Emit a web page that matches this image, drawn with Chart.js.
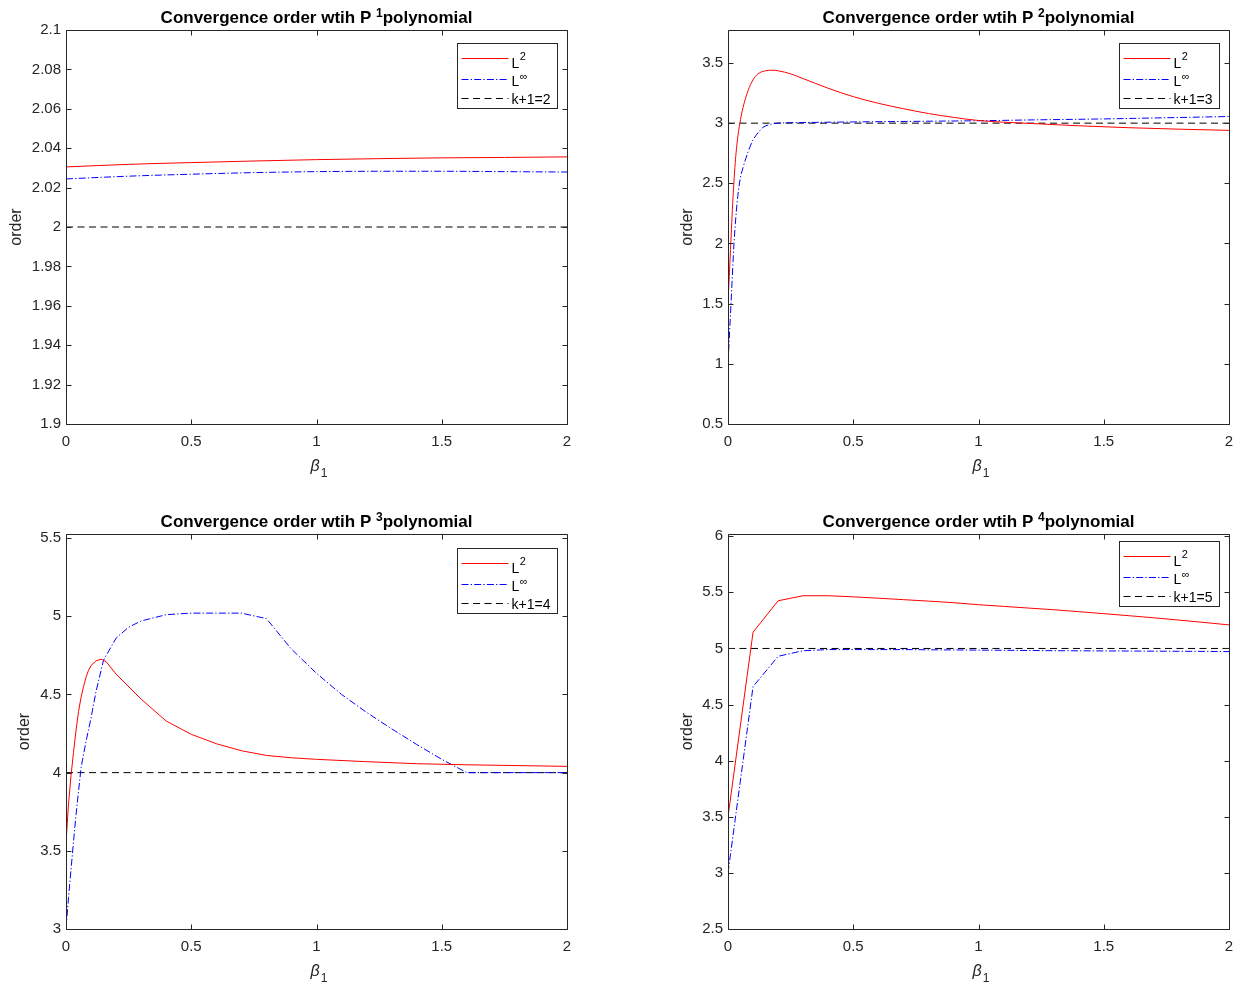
<!DOCTYPE html>
<html>
<head>
<meta charset="utf-8">
<script src="https://cdn.jsdelivr.net/npm/chart.js@4.4.1/dist/chart.umd.min.js"></script>
<style>
  html, body { margin: 0; padding: 0; background: #ffffff; }
  #fig { position: relative; width: 1234px; height: 987px; background: #ffffff; overflow: hidden; }
  #fig canvas { position: absolute; }
</style>
</head>
<body>
<div id="fig">
  <canvas id="c1" width="617" height="493" style="left:0px;top:0px;width:617px;height:493px"></canvas>
  <canvas id="c2" width="617" height="493" style="left:617px;top:0px;width:617px;height:493px"></canvas>
  <canvas id="c3" width="617" height="494" style="left:0px;top:493px;width:617px;height:494px"></canvas>
  <canvas id="c4" width="617" height="494" style="left:617px;top:493px;width:617px;height:494px"></canvas>
</div>
<script>
// ---------------- DATA ----------------
const X_TICKS = [0, 0.5, 1, 1.5, 2];
const REF_BETA = [0, 2];

// Panel 1 : P^1
const P1_TITLE = ['Convergence order wtih P ', '1', 'polynomial'];
const P1_LEGEND = [['L', '2'], ['L', '\u221E'], ['k+1=2', '']];
const P1_BETA = [0, 0.25, 0.5, 0.75, 1, 1.25, 1.5, 1.75, 2];
const P1_L2   = [2.0305, 2.0318, 2.0327, 2.0335, 2.0342, 2.0347, 2.0351, 2.0353, 2.0356];
const P1_LINF = [2.0244, 2.0258, 2.0268, 2.0276, 2.0281, 2.0283, 2.0283, 2.0281, 2.0279];
const P1_REF  = [2, 2];
const P1_Y_TICKS = [1.9, 1.92, 1.94, 1.96, 1.98, 2, 2.02, 2.04, 2.06, 2.08, 2.1];
const P1_Y_RANGE = [1.9, 2.1];

// Panel 2 : P^2
const P2_TITLE = ['Convergence order wtih P ', '2', 'polynomial'];
const P2_LEGEND = [['L', '2'], ['L', '\u221E'], ['k+1=3', '']];
const P2_BETA_L2 = [0, 0.01, 0.02, 0.03, 0.04, 0.05, 0.06, 0.08, 0.10, 0.12, 0.15, 0.18, 0.2, 0.25, 0.3, 0.4, 0.5, 0.6, 0.7, 0.8, 0.9, 1.0, 1.2, 1.4, 1.6, 1.8, 2.0];
const P2_L2 = [1.50, 1.95, 2.38, 2.70, 2.90, 3.03, 3.13, 3.27, 3.36, 3.41, 3.435, 3.44, 3.435, 3.41, 3.37, 3.29, 3.22, 3.165, 3.12, 3.08, 3.048, 3.022, 2.998, 2.978, 2.962, 2.95, 2.94];
const P2_BETA_LINF = [0, 0.012, 0.024, 0.036, 0.048, 0.06, 0.08, 0.1, 0.12, 0.14, 0.17, 0.2, 0.3, 0.5, 0.75, 1.0, 1.25, 1.5, 1.75, 2.0];
const P2_LINF = [1.0, 1.5, 2.0, 2.33, 2.53, 2.63, 2.76, 2.86, 2.92, 2.965, 2.99, 3.0, 3.005, 3.01, 3.015, 3.02, 3.028, 3.035, 3.045, 3.055];
const P2_REF = [3, 3];
const P2_Y_TICKS = [0.5, 1, 1.5, 2, 2.5, 3, 3.5];
const P2_Y_RANGE = [0.5, 3.774];

// Panel 3 : P^3
const P3_TITLE = ['Convergence order wtih P ', '3', 'polynomial'];
const P3_LEGEND = [['L', '2'], ['L', '\u221E'], ['k+1=4', '']];
const P3_BETA_L2 = [0, 0.01, 0.02, 0.03, 0.04, 0.05, 0.06, 0.07, 0.08, 0.09, 0.1, 0.12, 0.14, 0.16, 0.2, 0.3, 0.4, 0.5, 0.6, 0.7, 0.8, 0.9, 1.0, 1.2, 1.4, 1.6, 1.8, 2.0];
const P3_L2 = [3.55, 3.80, 3.98, 4.13, 4.27, 4.39, 4.48, 4.55, 4.61, 4.655, 4.685, 4.715, 4.725, 4.71, 4.63, 4.47, 4.33, 4.245, 4.185, 4.14, 4.11, 4.095, 4.085, 4.07, 4.057, 4.05, 4.045, 4.04];
const P3_BETA_LINF = [0, 0.01, 0.02, 0.03, 0.04, 0.05, 0.06, 0.08, 0.1, 0.12, 0.15, 0.2, 0.25, 0.3, 0.4, 0.5, 0.6, 0.7, 0.8, 0.9, 1.0, 1.1, 1.2, 1.3, 1.4, 1.5, 1.6, 1.7, 1.8, 1.9, 2.0];
const P3_LINF = [3.0, 3.2, 3.38, 3.56, 3.73, 3.88, 4.03, 4.2, 4.35, 4.52, 4.72, 4.86, 4.93, 4.97, 5.01, 5.02, 5.02, 5.02, 4.985, 4.79, 4.635, 4.50, 4.385, 4.28, 4.18, 4.085, 4.0, 4.0, 4.0, 4.0, 4.0];
const P3_REF = [4, 4];
const P3_Y_TICKS = [3, 3.5, 4, 4.5, 5, 5.5];
const P3_Y_RANGE = [3, 5.526];

// Panel 4 : P^4
const P4_TITLE = ['Convergence order wtih P ', '4', 'polynomial'];
const P4_LEGEND = [['L', '2'], ['L', '\u221E'], ['k+1=5', '']];
const P4_BETA = [0, 0.1, 0.2, 0.3, 0.4, 0.5, 0.6, 0.7, 0.8, 0.9, 1.0, 1.1, 1.2, 1.3, 1.4, 1.5, 1.6, 1.7, 1.8, 1.9, 2.0];
const P4_L2   = [3.5, 5.145, 5.425, 5.47, 5.47, 5.46, 5.448, 5.435, 5.422, 5.408, 5.39, 5.375, 5.36, 5.345, 5.328, 5.31, 5.292, 5.273, 5.253, 5.232, 5.21];
const P4_LINF = [3.0, 4.66, 4.93, 4.98, 4.99, 4.99, 4.99, 4.99, 4.988, 4.987, 4.985, 4.984, 4.982, 4.98, 4.979, 4.978, 4.977, 4.976, 4.975, 4.974, 4.972];
const P4_REF = [5, 5];
const P4_Y_TICKS = [2.5, 3, 3.5, 4, 4.5, 5, 5.5, 6];
const P4_Y_RANGE = [2.5, 6.02];

const X_LABEL = ['\u03B2', '1'];
const Y_LABEL = 'order';

// ---------------- RENDERING ----------------
const FONT = '"Liberation Sans", Arial, Helvetica, sans-serif';
const AXC = '#262626';

function pts(xs, ys) { return xs.map((x, i) => ({ x: x, y: ys[i] })); }
function fmt(v) { return String(+(+v).toFixed(3)); }

const mfig = {
  id: 'mfig',
  afterDraw(chart, args, o) {
    const ctx = chart.ctx, a = chart.chartArea;
    const xs = chart.scales.x, ys = chart.scales.y;
    const L = Math.round(a.left) + 0.5, R = Math.round(a.right) + 0.5;
    const T = Math.round(a.top) + 0.5, B = Math.round(a.bottom) + 0.5;
    ctx.save();
    ctx.setLineDash([]);
    ctx.strokeStyle = AXC; ctx.lineWidth = 1;
    ctx.beginPath();
    ctx.rect(L, T, R - L, B - T);
    ctx.stroke();
    const tl = 5;
    ctx.beginPath();
    xs.ticks.forEach(t => {
      const px = Math.round(xs.getPixelForValue(t.value)) + 0.5;
      ctx.moveTo(px, B); ctx.lineTo(px, B - tl);
      ctx.moveTo(px, T); ctx.lineTo(px, T + tl);
    });
    ys.ticks.forEach(t => {
      const py = Math.round(ys.getPixelForValue(t.value)) + 0.5;
      ctx.moveTo(L, py); ctx.lineTo(L + tl, py);
      ctx.moveTo(R, py); ctx.lineTo(R - tl, py);
    });
    ctx.stroke();

    // title with superscript
    ctx.fillStyle = '#000000';
    ctx.textAlign = 'left'; ctx.textBaseline = 'alphabetic';
    const tf = 'bold 17px ' + FONT, sf = 'bold 12px ' + FONT;
    ctx.font = tf; const w1 = ctx.measureText(o.title[0]).width;
    ctx.font = sf; const w2 = ctx.measureText(o.title[1]).width;
    ctx.font = tf; const w3 = ctx.measureText(o.title[2]).width;
    let tx = (a.left + a.right) / 2 - (w1 + w2 + w3) / 2;
    const tb = a.top - 7;
    ctx.font = tf; ctx.fillText(o.title[0], tx, tb);
    ctx.font = sf; ctx.fillText(o.title[1], tx + w1, tb - 6);
    ctx.font = tf; ctx.fillText(o.title[2], tx + w1 + w2, tb);

    // x label beta_1
    ctx.fillStyle = AXC;
    const cx = (a.left + a.right) / 2;
    ctx.font = 'italic 16px ' + FONT;
    const bw = ctx.measureText(o.xlabel[0]).width;
    ctx.fillText(o.xlabel[0], cx - 6, a.bottom + 47);
    ctx.font = '12px ' + FONT;
    ctx.fillText(o.xlabel[1], cx - 6 + bw + 1, a.bottom + 53);

    // legend
    const lw = 100, lh = 65;
    const bx = Math.round(a.right) - 10 - lw + 0.5;
    const by = Math.round(a.top) + o.legendTop + 0.5;
    ctx.fillStyle = '#ffffff';
    ctx.fillRect(bx, by, lw, lh);
    ctx.strokeStyle = AXC; ctx.lineWidth = 1; ctx.setLineDash([]);
    ctx.strokeRect(bx, by, lw, lh);
    const rows = [14, 35, 54];
    const baseOff = [9, 6.5, 5];
    const supOff = [1.5, 0.5, 0];
    chart.data.datasets.forEach((ds, i) => {
      const ly = Math.round(by + rows[i]) + 0.5;
      ctx.strokeStyle = ds.borderColor; ctx.lineWidth = 1;
      ctx.setLineDash(ds.borderDash || []);
      ctx.beginPath(); ctx.moveTo(bx + 4, ly); ctx.lineTo(bx + 51, ly); ctx.stroke();
      ctx.setLineDash([]);
      ctx.fillStyle = '#000000';
      const lab = o.legend[i];
      ctx.font = '14px ' + FONT;
      const lx = bx + 54;
      ctx.fillText(lab[0], lx, ly + baseOff[i]);
      if (lab[1]) {
        const lwid = ctx.measureText(lab[0]).width;
        ctx.font = '11px ' + FONT;
        ctx.fillText(lab[1], lx + lwid + 0.5, ly + supOff[i]);
      }
    });
    ctx.restore();
  }
};

function makeChart(id, cfg) {
  const ds = [
    { label: cfg.legend[0].join(''), data: pts(cfg.l2x, cfg.l2y), borderColor: '#ff0000', borderWidth: 1,
      pointRadius: 0, fill: false, tension: 0, cubicInterpolationMode: cfg.smooth ? 'monotone' : 'default' },
    { label: cfg.legend[1].join(''), data: pts(cfg.lix, cfg.liy), borderColor: '#0000ff', borderWidth: 1,
      borderDash: [7, 2.2, 1.3, 2.2], pointRadius: 0, fill: false, tension: 0, cubicInterpolationMode: cfg.smooth ? 'monotone' : 'default' },
    { label: cfg.legend[2].join(''), data: pts(REF_BETA, cfg.ref), borderColor: '#000000', borderWidth: 1,
      borderDash: [7, 4.5], pointRadius: 0, fill: false, tension: 0 }
  ];
  return new Chart(document.getElementById(id), {
    type: 'line',
    data: { datasets: ds },
    plugins: [mfig],
    options: {
      responsive: false,
      animation: false,
      devicePixelRatio: 1,
      layout: { padding: { top: cfg.padTop, right: cfg.padRight, left: 0, bottom: 0 } },
      plugins: {
        legend: { display: false },
        tooltip: { enabled: false },
        title: { display: false },
        mfig: { title: cfg.title, legend: cfg.legend, xlabel: X_LABEL, legendTop: cfg.legendTop }
      },
      scales: {
        x: {
          type: 'linear', min: 0, max: 2,
          grid: { display: false, drawTicks: false },
          border: { display: false },
          afterBuildTicks: s => { s.ticks = X_TICKS.map(v => ({ value: v })); },
          afterFit: s => { s.height = cfg.bottomH; s.paddingLeft = 0; s.paddingRight = 0; s.paddingTop = 0; s.paddingBottom = 0; },
          ticks: { color: AXC, font: { family: FONT, size: 15 }, padding: 9, maxRotation: 0, autoSkip: false,
                   callback: v => fmt(v) }
        },
        y: {
          type: 'linear', min: cfg.yr[0], max: cfg.yr[1],
          grid: { display: false, drawTicks: false },
          border: { display: false },
          afterBuildTicks: s => { s.ticks = cfg.yt.map(v => ({ value: v })); },
          afterFit: s => { s.width = cfg.leftW; s.paddingLeft = 0; s.paddingRight = 0; s.paddingTop = 0; s.paddingBottom = 0; },
          ticks: { color: AXC, font: { family: FONT, size: 15 }, padding: 5, autoSkip: false,
                   callback: v => fmt(v) },
          title: { display: true, text: Y_LABEL, color: AXC, font: { family: FONT, size: 16 },
                   padding: { top: cfg.ytPad, bottom: 0 } }
        }
      }
    }
  });
}

makeChart('c1', { title: P1_TITLE, legend: P1_LEGEND, l2x: P1_BETA, l2y: P1_L2, lix: P1_BETA, liy: P1_LINF, ref: P1_REF,
  yt: P1_Y_TICKS, yr: P1_Y_RANGE, smooth: true, padTop: 30, padRight: 50, leftW: 66, bottomH: 69, ytPad: 7.4, legendTop: 13 });
makeChart('c2', { title: P2_TITLE, legend: P2_LEGEND, l2x: P2_BETA_L2, l2y: P2_L2, lix: P2_BETA_LINF, liy: P2_LINF, ref: P2_REF,
  yt: P2_Y_TICKS, yr: P2_Y_RANGE, smooth: true, padTop: 30, padRight: 5, leftW: 111, bottomH: 69, ytPad: 61.4, legendTop: 13 });
makeChart('c3', { title: P3_TITLE, legend: P3_LEGEND, l2x: P3_BETA_L2, l2y: P3_L2, lix: P3_BETA_LINF, liy: P3_LINF, ref: P3_REF,
  yt: P3_Y_TICKS, yr: P3_Y_RANGE, smooth: false, padTop: 41, padRight: 50, leftW: 66, bottomH: 58, ytPad: 15.4, legendTop: 14 });
makeChart('c4', { title: P4_TITLE, legend: P4_LEGEND, l2x: P4_BETA, l2y: P4_L2, lix: P4_BETA, liy: P4_LINF, ref: P4_REF,
  yt: P4_Y_TICKS, yr: P4_Y_RANGE, smooth: false, padTop: 41, padRight: 5, leftW: 111, bottomH: 58, ytPad: 61.4, legendTop: 7 });
</script>
</body>
</html>
